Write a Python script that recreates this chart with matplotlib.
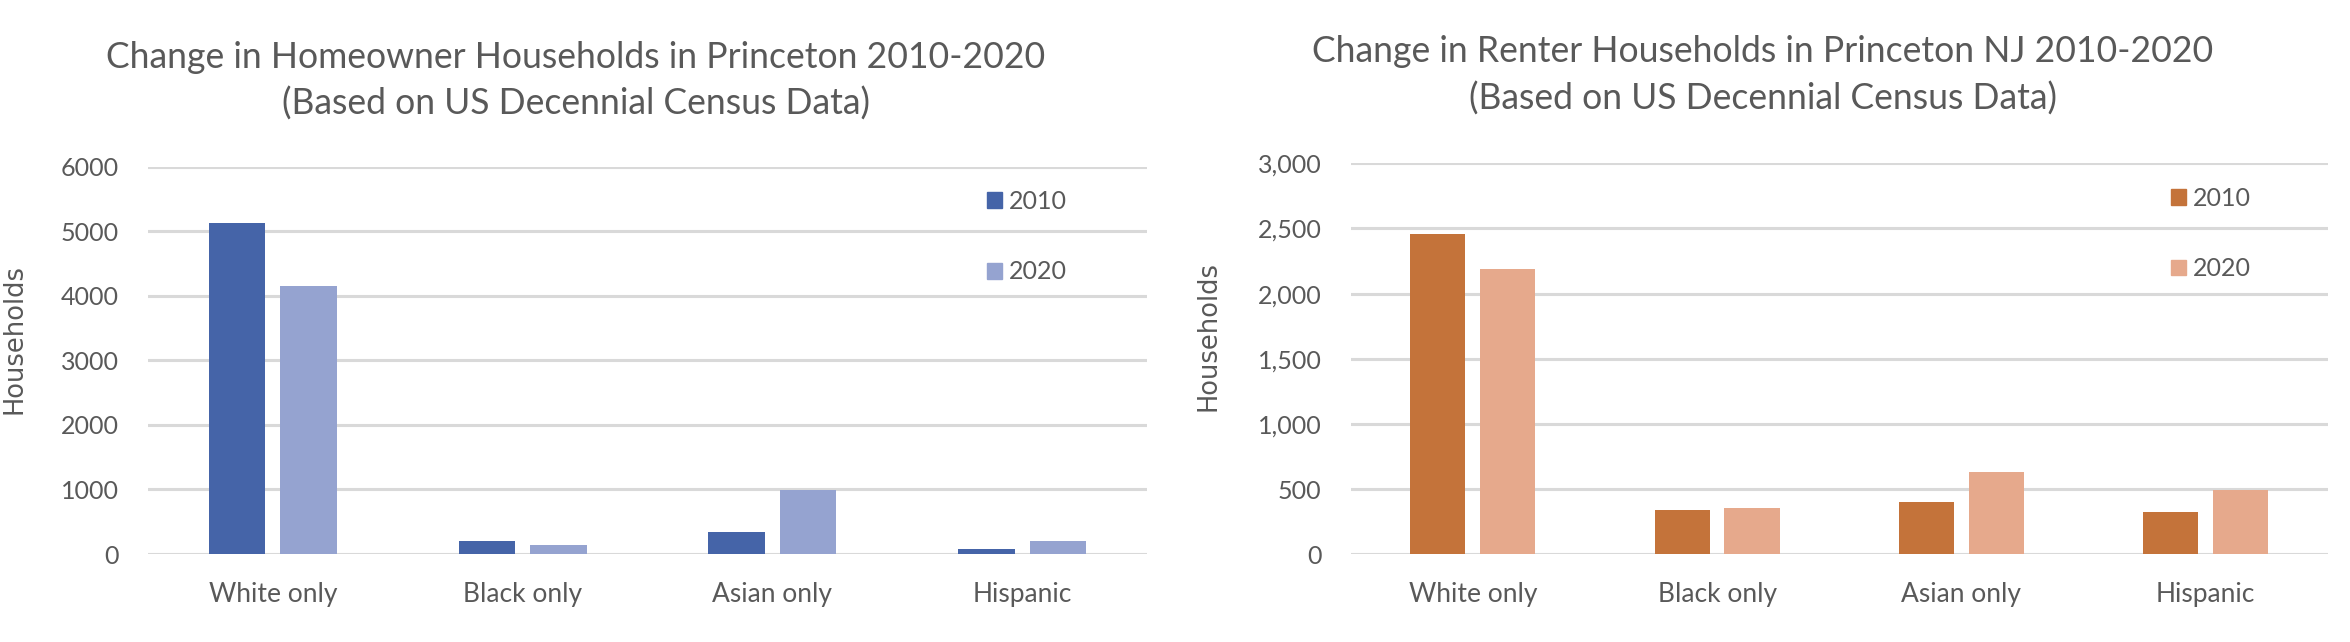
import numpy as np
import matplotlib
matplotlib.use('Agg')
import matplotlib.pyplot as plt
from matplotlib.patches import Patch

# data
categories = ['White only', 'Black only', 'Asian only', 'Hispanic']
years = ['2010', '2020']
owner_2010 = [5128, 197, 337, 73]
owner_2020 = [4152, 146, 985, 206]
renter_2010 = [2455, 342, 405, 325]
renter_2020 = [2189, 355, 631, 493]
owner_ticks = [0, 1000, 2000, 3000, 4000, 5000, 6000]
renter_ticks = [0, 500, 1000, 1500, 2000, 2500, 3000]

txt = '#595959'
grid = '#d9d9d9'
main_font = 'Lato'

fig = plt.figure(figsize=(23.5, 6.42), dpi=100)
W, H = 2350, 642


def px_axes(x0, y0, x1, y1):
    # pixel box (top-left origin) -> figure axes
    return fig.add_axes([x0 / W, 1 - y1 / H, (x1 - x0) / W, (y1 - y0) / H])


def draw_panel(ax, v10, v20, c10, c20, ticks, fmt, leg_y):
    x = np.arange(len(categories))
    bw = 0.226
    off = 0.143
    ax.bar(x - off, v10, bw, color=c10, zorder=3)
    ax.bar(x + off, v20, bw, color=c20, zorder=3)
    ax.set_xlim(-0.5, len(categories) - 0.5)
    ax.set_ylim(0, ticks[-1])
    ax.set_yticks(ticks)
    ax.set_yticklabels([fmt(t) for t in ticks])
    ax.set_xticks(x)
    ax.set_xticklabels(categories)
    for t in ticks:
        ax.axhline(t, color=grid, lw=2.2, zorder=1)
    for s in ax.spines.values():
        s.set_visible(False)
    ax.tick_params(axis='y', length=0, pad=21, labelsize=18, labelcolor=txt)
    ax.tick_params(axis='x', length=0, pad=20, labelsize=19, labelcolor=txt)
    for lab in ax.get_xticklabels() + ax.get_yticklabels():
        lab.set_fontfamily(main_font)
    leg = ax.legend(handles=[Patch(color=c10, label=years[0]), Patch(color=c20, label=years[1])],
                    loc='upper left', bbox_to_anchor=(0.84, leg_y), frameon=False,
                    handlelength=0.6, handleheight=0.6, handletextpad=0.25,
                    labelspacing=1.9, borderpad=0, borderaxespad=0,
                    prop={'family': main_font, 'size': 18})
    for t in leg.get_texts():
        t.set_color(txt)


ax1 = px_axes(148, 166.7, 1147, 554)
draw_panel(ax1, owner_2010, owner_2020, '#4564a8', '#95a3d0', owner_ticks, lambda t: f'{t}', 0.94)

ax2 = px_axes(1350.7, 163.3, 2327.7, 554.3)
draw_panel(ax2, renter_2010, renter_2020, '#c4733a', '#e6a98c', renter_ticks, lambda t: f'{t:,}', 0.94)

# titles
tsize = 25.6
fig.text(576 / W, 1 - 57 / H, 'Change in Homeowner Households in Princeton 2010-2020',
         ha='center', va='center', fontsize=tsize, color=txt, family=main_font)
fig.text(576 / W, 1 - 104 / H, '(Based on US Decennial Census Data)',
         ha='center', va='center', fontsize=tsize, color=txt, family=main_font)
fig.text(1763 / W, 1 - 52 / H, 'Change in Renter Households in Princeton NJ 2010-2020',
         ha='center', va='center', fontsize=tsize, color=txt, family=main_font)
fig.text(1763 / W, 1 - 99 / H, '(Based on US Decennial Census Data)',
         ha='center', va='center', fontsize=tsize, color=txt, family=main_font)

# y axis labels
fig.text(15 / W, 1 - 339 / H, 'Households', rotation=90, ha='center', va='center',
         fontsize=18.5, color=txt, family='DejaVu Sans')
fig.text(1208 / W, 1 - 336 / H, 'Households', rotation=90, ha='center', va='center',
         fontsize=18.5, color=txt, family='DejaVu Sans')

fig.savefig('out.png', dpi=100, facecolor='white')
